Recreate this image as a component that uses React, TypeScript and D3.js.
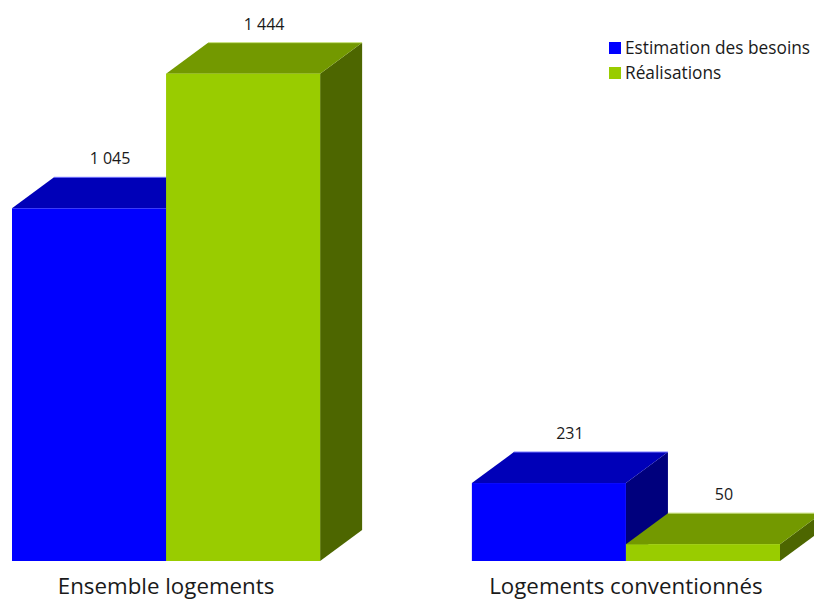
import React from "react";
import * as d3 from "d3";

const categories = ["Ensemble logements", "Logements conventionnés"];
const seriesNames = ["Estimation des besoins", "Réalisations"];
const besoins = [1045, 231];
const realisations = [1444, 50];
const seriesValues = [besoins, realisations];

const W = 814;
const H = 601;
const DX = 42;
const DY = -31;
const FONT = "'Open Sans', Lato, sans-serif";

const palette = [
  { front: "#0000FF", top: "#0000B8", side: "#00007D", edge: "#6F6FFF" },
  { front: "#99CC00", top: "#739900", side: "#4D6600", edge: "#C6E07A" },
];

const fmt = (v: number) => d3.format(",")(v).replace(/,/g, " ");

export default function App() {
  const x0 = d3.scaleBand<string>().domain(categories).range([12, 780]).paddingInner(0.33).paddingOuter(0);
  const x1 = d3.scaleBand<string>().domain(seriesNames).range([0, x0.bandwidth()]).padding(0);
  const y = d3.scaleLinear().domain([0, 1600]).range([561, 21]);

  const bars: React.ReactNode[] = [];
  const labels: React.ReactNode[] = [];
  categories.forEach((cat, ci) => {
    seriesNames.forEach((s, si) => {
      const v = seriesValues[si][ci];
      const xl = (x0(cat) as number) + (x1(s) as number);
      const xr = xl + x1.bandwidth();
      const yt = y(v);
      const yb = y(0);
      const c = palette[si];
      const key = `${ci}-${si}`;
      bars.push(
        <g key={key}>
          <polygon
            points={`${xr},${yb} ${xr + DX},${yb + DY} ${xr + DX},${yt + DY} ${xr},${yt}`}
            fill={c.side}
          />
          <polygon
            points={`${xl},${yt} ${xl + DX},${yt + DY} ${xr + DX},${yt + DY} ${xr},${yt}`}
            fill={c.top}
          />
          <line x1={xl + DX} y1={yt + DY} x2={xr + DX} y2={yt + DY} stroke={c.edge} strokeWidth={1} />
          <rect x={xl} y={yt} width={xr - xl} height={yb - yt} fill={c.front} />
        </g>
      );
      labels.push(
        <text
          key={"l" + key}
          x={(xl + xr) / 2 + DX / 2}
          y={yt + DY - 13}
          textAnchor="middle"
          fontFamily={FONT}
          fontSize={16}
          fill="#1a1a1a"
        >
          {fmt(v)}
        </text>
      );
    });
  });

  return (
    <svg
      width={W}
      height={H}
      style={{ position: "fixed", left: 0, top: 0, background: "#fff" }}
    >
      {bars}
      {labels}
      {categories.map((cat) => (
        <text
          key={cat}
          x={(x0(cat) as number) + x0.bandwidth() / 2}
          y={594}
          textAnchor="middle"
          fontFamily={FONT}
          fontSize={22.3}
          fill="#1a1a1a"
        >
          {cat}
        </text>
      ))}
      {seriesNames.map((s, i) => (
        <g key={s} transform={`translate(609, ${42 + i * 25})`}>
          <rect x={0} y={0} width={12} height={12} fill={palette[i].front} />
          <text x={16} y={11.5} fontFamily={FONT} fontSize={17.3} fill="#1a1a1a">
            {s}
          </text>
        </g>
      ))}
    </svg>
  );
}
